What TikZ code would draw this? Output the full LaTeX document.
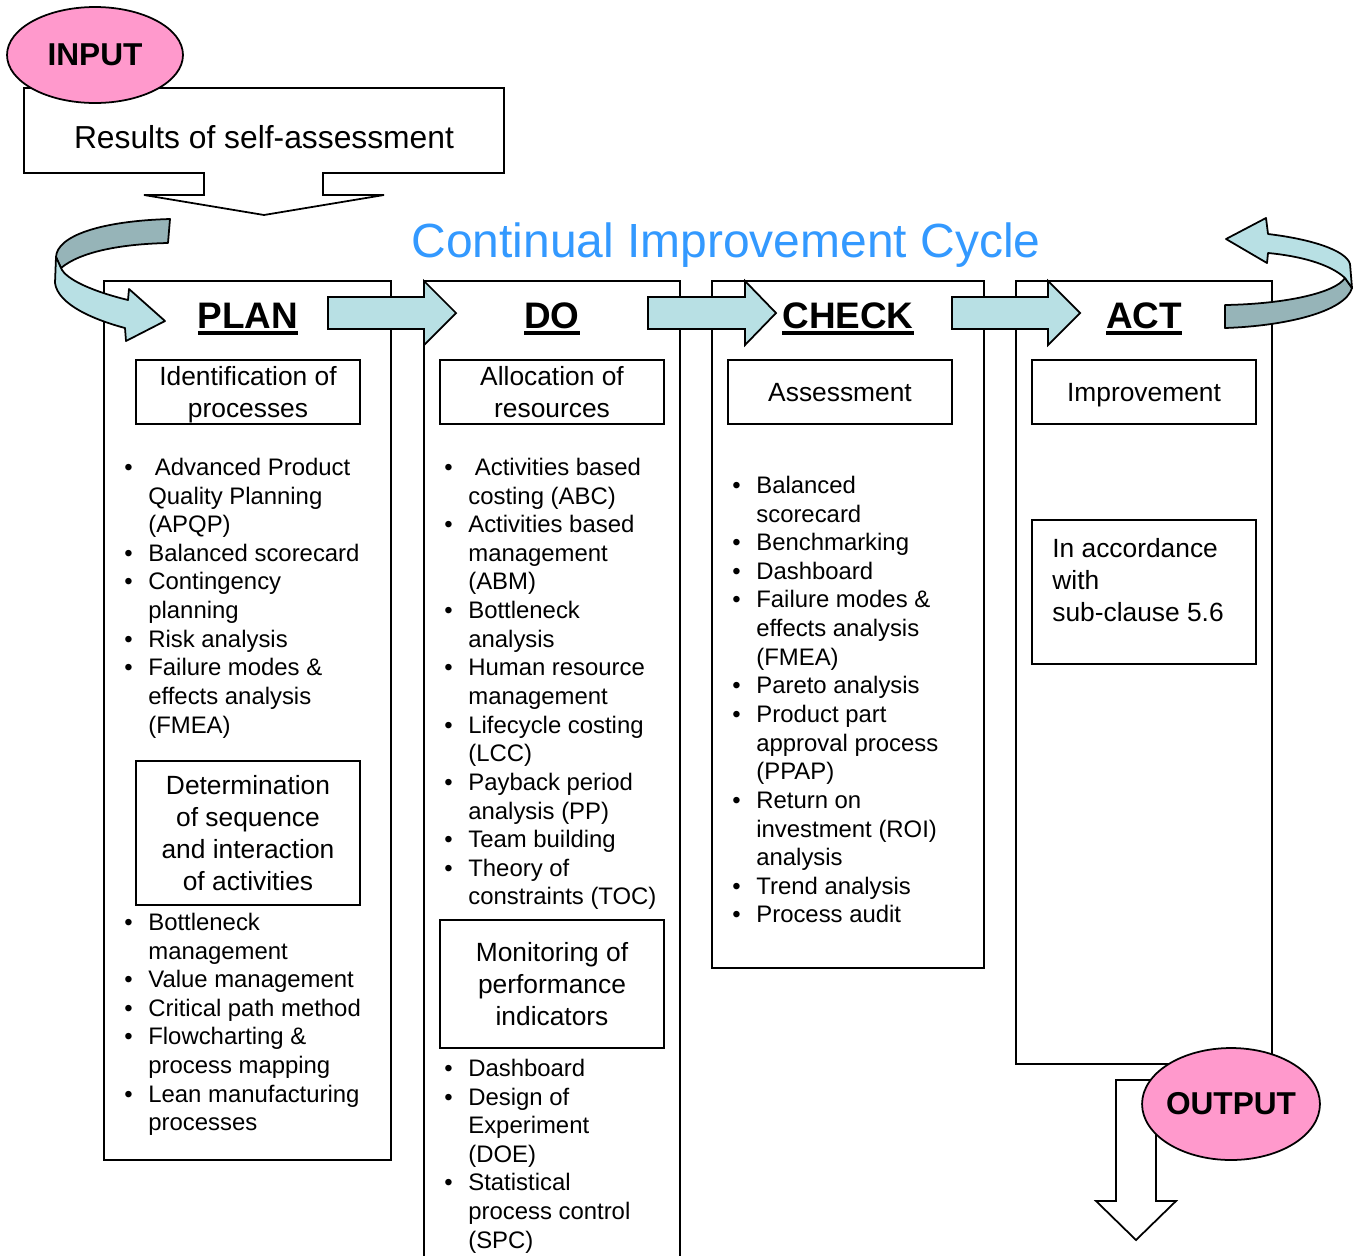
\documentclass[tikz,border=0pt]{standalone}
\usepackage{fontspec}
\setmainfont{Liberation Sans}
\usepackage{xcolor}
\usepackage{tikz}
\usetikzlibrary{shapes.geometric}

\definecolor{ribbonlight}{HTML}{B8E0E4}
\definecolor{ribbondark}{HTML}{96B4B8}
\definecolor{badgepink}{HTML}{FF99CC}
\definecolor{titleblue}{HTML}{3399FF}

% thick underline for the step names
\newcommand{\headul}[1]{\setbox0\hbox{#1}\rlap{\rule[-3.8pt]{\wd0}{2pt}}\box0}

\begin{document}
\begin{tikzpicture}[x=0.02cm, y=-0.02cm,
  frame/.style={draw, line width=1pt},
  subbox/.style={draw, line width=1pt, minimum width=4.48cm, minimum height=1.28cm,
    inner sep=0pt, align=center, font=\fontsize{15}{18.1}\selectfont},
  onelinebox/.style={subbox, text height=10.7pt, text depth=0pt},
  toollist/.style={anchor=north west, inner sep=0pt, font=\fontsize{13.6}{16.3}\selectfont},
  stepname/.style={anchor=base, inner sep=0pt, font=\fontsize{21}{25}\selectfont\bfseries},
  blockarrow/.style={draw, fill=ribbonlight, line width=1pt},
  badge/.style={ellipse, draw, fill=badgepink, line width=1pt, inner sep=0pt,
    font=\fontsize{18}{22}\selectfont\bfseries}]
  \useasboundingbox (0,0) rectangle (1364,1255);

  % the four step columns (DO runs off the page)
  \foreach \xl/\xr/\yb in {104/391/1160, 712/984/968, 1016/1272/1064} {
    \draw[frame] (\xl,281) rectangle (\xr,\yb);
  }
  \draw[frame] (424,1260) -- (424,281) -- (680,281) -- (680,1260);

  % block arrows between the steps
  \foreach \xa/\xb/\xc in {328/424/456, 648/745/776, 952/1048/1080} {
    \draw[blockarrow] (\xa,297) -- (\xb,297) -- (\xb,281) -- (\xc,313)
      -- (\xb,345) -- (\xb,329) -- (\xa,329) -- cycle;
  }

  % step names
  \foreach \nm/\lbl/\cx in {plan/PLAN/248, do/DO/552, check/CHECK/848, act/ACT/1144} {
    \node[stepname] (\nm) at (\cx,328) {\headul{\lbl}};
  }

  \node[anchor=base, inner sep=0pt, text=titleblue, font=\fontsize{27.3}{32}\selectfont]
    (title) at (726,257) {Continual Improvement Cycle};

  % input callout
  \draw[frame, fill=white] (24,88) -- (504,88) -- (504,173) -- (323,173) -- (323,195)
    -- (384,195) -- (264,215) -- (144,195) -- (204,195) -- (204,173) -- (24,173) -- cycle;
  \node[anchor=base, inner sep=0pt, font=\fontsize{18.1}{22}\selectfont]
    (results) at (264,148) {Results of self-assessment};
  \node[badge, minimum width=3.52cm, minimum height=1.92cm] (input) at (95,55) {INPUT};

  % boxes inside the columns
  \node[subbox] (ident) at (248,392) {Identification of\\\smash{processes}};
  \node[subbox, minimum height=2.88cm] (determ) at (248,833)
    {Determination\\of sequence\\and interaction\\of activities};
  \node[subbox] (alloc) at (552,392) {Allocation of\\resources};
  \node[subbox, minimum height=2.56cm] (monitor) at (552,984)
    {Monitoring of\\performance\\indicators};
  \node[onelinebox] (assess) at (840,392) {Assessment};
  \node[onelinebox] (improve) at (1144,392) {Improvement};
  \node[subbox, minimum height=2.88cm] (accord) at (1144,592) {};
  \node[anchor=north west, inner sep=0pt, align=left, font=\fontsize{15}{18.1}\selectfont]
    (accordtext) at (1052,538) {In accordance\\with\\sub-clause 5.6};

  % tool lists
  \node[toollist] (plantools) at (124,455) {\begin{tabular}[t]{@{}p{0.48cm}@{}l@{}}
    \textbullet & \ Advanced Product\\
     & Quality Planning\\
     & (APQP)\\
    \textbullet & Balanced scorecard\\
    \textbullet & Contingency\\
     & planning\\
    \textbullet & Risk analysis\\
    \textbullet & Failure modes \&\\
     & effects analysis\\
     & (FMEA)
  \end{tabular}};
  \node[toollist] (seqtools) at (124,910) {\begin{tabular}[t]{@{}p{0.48cm}@{}l@{}}
    \textbullet & Bottleneck\\
     & management\\
    \textbullet & Value management\\
    \textbullet & Critical path method\\
    \textbullet & Flowcharting \&\\
     & process mapping\\
    \textbullet & Lean manufacturing\\
     & processes
  \end{tabular}};
  \node[toollist] (dotools) at (444,455) {\begin{tabular}[t]{@{}p{0.48cm}@{}l@{}}
    \textbullet & \ Activities based\\
     & costing (ABC)\\
    \textbullet & Activities based\\
     & management\\
     & (ABM)\\
    \textbullet & Bottleneck\\
     & analysis\\
    \textbullet & Human resource\\
     & management\\
    \textbullet & Lifecycle costing\\
     & (LCC)\\
    \textbullet & Payback period\\
     & analysis (PP)\\
    \textbullet & Team building\\
    \textbullet & Theory of\\
     & constraints (TOC)
  \end{tabular}};
  \node[toollist] (montools) at (444,1056) {\begin{tabular}[t]{@{}p{0.48cm}@{}l@{}}
    \textbullet & Dashboard\\
    \textbullet & Design of\\
     & Experiment\\
     & (DOE)\\
    \textbullet & Statistical\\
     & process control\\
     & (SPC)
  \end{tabular}};
  \node[toollist] (checktools) at (732,473) {\begin{tabular}[t]{@{}p{0.48cm}@{}l@{}}
    \textbullet & Balanced\\
     & scorecard\\
    \textbullet & Benchmarking\\
    \textbullet & Dashboard\\
    \textbullet & Failure modes \&\\
     & effects analysis\\
     & (FMEA)\\
    \textbullet & Pareto analysis\\
    \textbullet & Product part\\
     & approval process\\
     & (PPAP)\\
    \textbullet & Return on\\
     & investment (ROI)\\
     & analysis\\
    \textbullet & Trend analysis\\
    \textbullet & Process audit
  \end{tabular}};

  % twisted ribbon arrows closing the cycle
  \draw[frame, fill=ribbondark, line join=round] (170,219) .. controls (100,221) and (57,236) .. (56,257)
    -- (61,268) .. controls (80,252) and (120,244) .. (168,243) -- cycle;
  \draw[frame, fill=ribbonlight, line join=round] (56,257) -- (55,283)
    .. controls (58,305) and (95,320) .. (125,328) -- (126,341) -- (165,321) -- (129,289)
    -- (128,300) .. controls (95,292) and (66,280) .. (61,268) -- cycle;
  \draw[frame, fill=ribbondark, line join=round] (1225,305) .. controls (1285,304) and (1335,293) .. (1345,278)
    -- (1352,288) .. controls (1345,312) and (1285,326) .. (1225,328) -- cycle;
  \draw[frame, fill=ribbonlight, line join=round] (1268,234) .. controls (1310,239) and (1346,250) .. (1350,264)
    -- (1352,288) -- (1345,278) .. controls (1330,264) and (1300,256) .. (1268,253)
    -- (1267,263) -- (1226,239) -- (1266,218) -- cycle;

  % output
  \draw[frame, fill=white] (1116,1080) -- (1156,1080) -- (1156,1201) -- (1176,1201)
    -- (1136,1240) -- (1096,1201) -- (1116,1201) -- cycle;
  \node[badge, inner xsep=-1.2pt, minimum width=3.54cm, minimum height=2.24cm] (output) at (1231,1104) {OUTPUT};
\end{tikzpicture}
\end{document}
